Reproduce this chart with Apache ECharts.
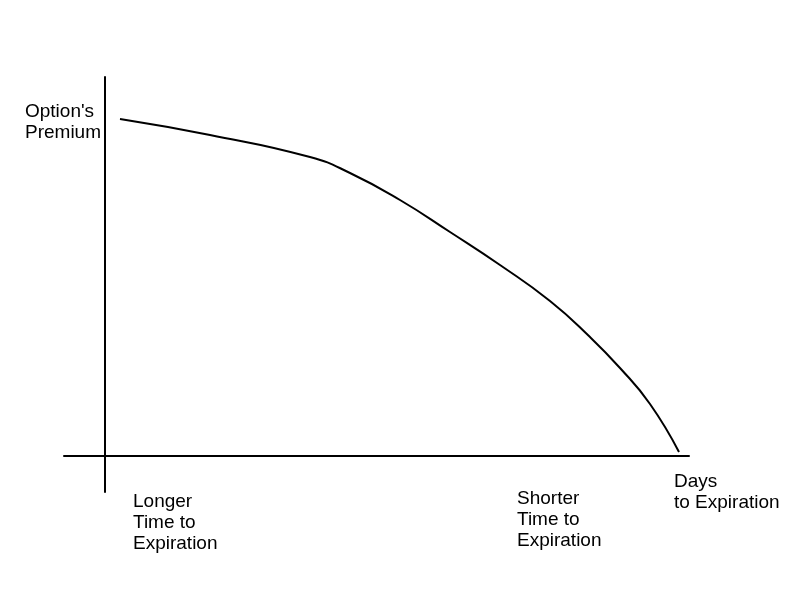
<!DOCTYPE html>
<html>
<head>
<meta charset="utf-8">
<script src="https://cdn.jsdelivr.net/npm/echarts@6/dist/echarts.min.js"></script>
<style>html,body{margin:0;padding:0;background:#fff}#c{width:800px;height:600px}</style>
</head>
<body>
<div id="c"></div>
<script>
// Time axis (0 = longer time to expiration, right = expiration) and option premium
const timeValues = [15, 105, 205, 245, 295, 345, 395, 445, 485, 515, 545, 574];
const premiumValues = [337, 321, 299, 283, 256, 224, 191, 155, 119, 88, 52, 4];
const yAxisLabel = "Option's\nPremium";
const xAxisLabel = "Days\nto Expiration";
const leftLabel = "Longer\nTime to\nExpiration";
const rightLabel = "Shorter\nTime to\nExpiration";

const chart = echarts.init(document.getElementById('c'), null, {renderer: 'canvas'});
const font = {fontFamily: 'Liberation Sans, Arial, sans-serif', fontSize: 19, lineHeight: 21, fill: '#000'};
chart.setOption({
  animation: false,
  backgroundColor: '#fff',
  grid: {left: 64, top: 77, width: 625, height: 415},
  xAxis: {
    type: 'value', min: -41, max: 584,
    axisLine: {show: true, onZero: true, lineStyle: {color: '#000', width: 2}},
    axisTick: {show: false}, axisLabel: {show: false}, splitLine: {show: false}
  },
  yAxis: {
    type: 'value', min: -36, max: 379,
    axisLine: {show: true, onZero: true, lineStyle: {color: '#000', width: 2}},
    axisTick: {show: false}, axisLabel: {show: false}, splitLine: {show: false}
  },
  series: [{
    type: 'line',
    data: timeValues.map((t, i) => [t, premiumValues[i]]),
    smooth: 0.5,
    showSymbol: false,
    lineStyle: {color: '#000', width: 2}
  }],
  graphic: [
    {type: 'text', left: 25, top: 101, style: Object.assign({text: yAxisLabel}, font)},
    {type: 'text', left: 133, top: 491, style: Object.assign({text: leftLabel}, font)},
    {type: 'text', left: 517, top: 488, style: Object.assign({text: rightLabel}, font)},
    {type: 'text', left: 674, top: 471, style: Object.assign({text: xAxisLabel}, font)}
  ]
});
</script>
</body>
</html>
